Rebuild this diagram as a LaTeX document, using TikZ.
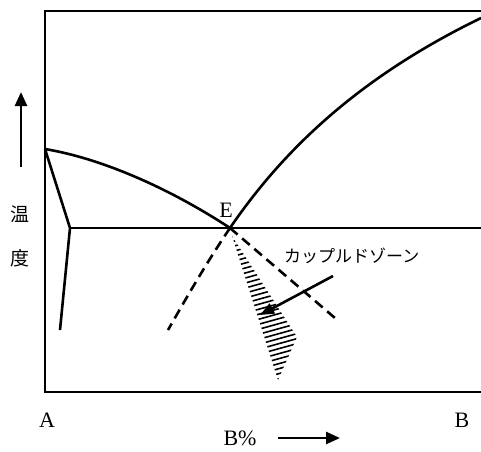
\documentclass[tikz,border=0pt]{standalone}
\usepackage{fontspec}
\setmainfont{Liberation Serif}
\newfontfamily\jpfont{Noto Sans CJK JP}
\usetikzlibrary{arrows.meta}
\begin{document}
\begin{tikzpicture}[x=1pt,y=-1pt,
  thickline/.style={line width=2.6pt},
  dashline/.style={line width=2.6pt,dash pattern=on 10pt off 6pt},
  lbl/.style={inner sep=0pt,font=\fontsize{22}{22}\selectfont},
  jlbl/.style={inner sep=0pt,font=\jpfont\fontsize{17}{17}\selectfont},
  jbig/.style={inner sep=0pt,font=\jpfont\fontsize{19}{19}\selectfont},
  bigarrow/.style={line width=2.6pt,-{Triangle[length=14pt,width=12pt]}}]
\useasboundingbox (0,0) rectangle (481,451);
% points
\coordinate (TR) at (481,11);
\coordinate (TL) at (45,11);
\coordinate (BL) at (45,392);
\coordinate (BR) at (481,392);
\coordinate (LA) at (45,149);
\coordinate (K) at (70,228);
\coordinate (S) at (60,330);
\coordinate (E) at (230,228);
\coordinate (Eright) at (481,228);
\coordinate (LB) at (481,18);
\coordinate (DL) at (168,330);
\coordinate (DR) at (335,318);
\coordinate (H1) at (232,236);
\coordinate (H2) at (297,337);
\coordinate (H3) at (278,380);
% frame
\draw[thickline] (TR) -- (TL) -- (BL) -- (BR);
% liquidus
\draw[thickline] (LA) .. controls (110,160) and (180,195) .. (E);
\draw[thickline] (E) .. controls (290,140) and (370,72) .. (LB);
% solidus
\draw[thickline,line join=miter] (LA) -- (K) -- (S);
% eutectic
\draw[thickline] (K) -- (Eright);
% dashed extensions
\draw[dashline] (E) .. controls (207,262) and (188,295) .. (DL);
\draw[dashline] (E) -- (DR);
% hatched coupled zone
\begin{scope}
\clip (H1) -- (H2) -- (H3) -- cycle;
\foreach \y in {220,225,...,420} {
  \draw[line width=1.6pt] (220,\y) -- (310,\y-25);
}
\end{scope}
% labels
\node[lbl] (Elbl) at (226,210) {E};
\node[jlbl,anchor=west] (cz) at (284,256) {カップルドゾーン};
\coordinate (Atail) at (333,276);
\coordinate (Ahead) at (260,315);
\draw[line width=2.6pt,-{Triangle[length=14pt,width=11pt]}] (Atail) -- (Ahead);
% temperature axis
\coordinate (Tup0) at (21,167);
\coordinate (Tup1) at (21,92);
\draw[bigarrow] (Tup0) -- (Tup1);
\node[jbig] (on) at (20,214) {温};
\node[jbig] (do) at (20,258) {度};
% composition axis
\node[lbl] (A) at (47,420) {A};
\node[lbl] (B) at (462,420) {B};
\node[lbl] (Bp) at (240,438) {B\%};
\coordinate (Bx0) at (278,438);
\coordinate (Bx1) at (340,438);
\draw[bigarrow] (Bx0) -- (Bx1);
\end{tikzpicture}
\end{document}
